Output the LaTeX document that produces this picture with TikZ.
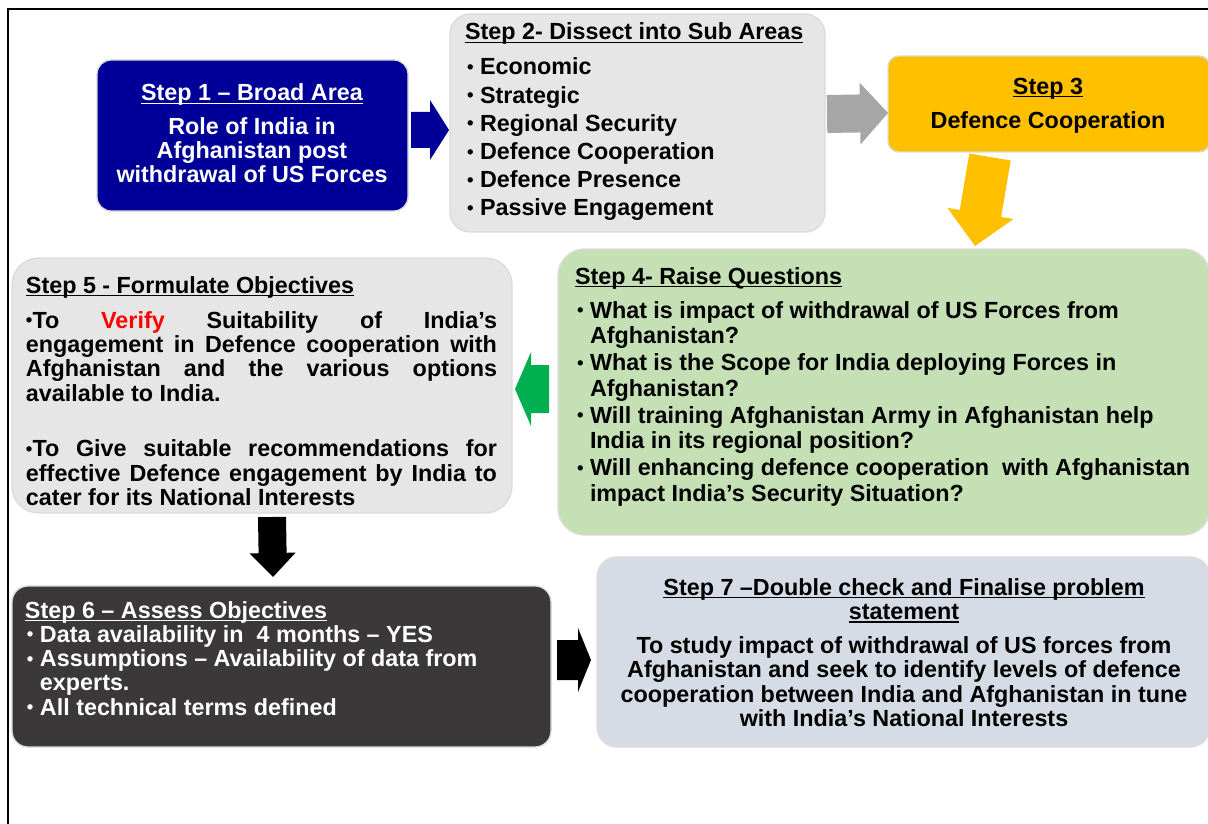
\documentclass[tikz,border=0pt]{standalone}
\usepackage{fontspec}
\setmainfont{Liberation Sans}
\usetikzlibrary{calc,fit}

\definecolor{navy}{HTML}{000099}
\definecolor{paleGrey}{HTML}{E6E6E6}
\definecolor{arrowGrey}{HTML}{A6A6A6}
\definecolor{amber}{HTML}{FFC000}
\definecolor{sage}{HTML}{C5E0B4}
\definecolor{leaf}{HTML}{00B050}
\definecolor{charcoal}{HTML}{3A3838}
\definecolor{steel}{HTML}{D6DCE5}
\definecolor{verifyRed}{HTML}{FF0000}

% underline that sits just under the baseline and crosses descenders
\newcommand\ulin[1]{\leavevmode\setbox0\hbox{#1}\rlap{\rule[-2.6pt]{\wd0}{1.1pt}}\box0}
% a block of step text: width, baselineskip, content
\newcommand\steptext[3]{\begin{minipage}[t]{#1}\fontsize{17.5pt}{#2}\selectfont\bfseries #3\end{minipage}}
% small list bullet and hanging indent
\newcommand\listdot{{\fontsize{14pt}{14pt}\selectfont\raisebox{1pt}{\textbullet}}}
\newcommand\bul{\hspace*{1.5pt}\makebox[9.75pt][l]{\listdot}}
\newcommand\hang{\hspace*{11.25pt}}
\newcommand\jline[1]{\makebox[\linewidth][s]{#1}}
% block arrow: fill, tail, tip, shaft half-width, head half-width, head length
\newcommand\blockarrow[6]{%
  \path ($(#3)!#6!(#2)$) coordinate (#2-base);
  \fill[#1] ($(#2)!#4!90:(#3)$) -- ($(#2-base)!#4!90:(#3)$) -- ($(#2-base)!#5!90:(#3)$)
     -- (#3) -- ($(#2-base)!#5!-90:(#3)$) -- ($(#2-base)!#4!-90:(#3)$) -- ($(#2)!#4!-90:(#3)$) -- cycle;
}

\tikzset{
  stepbox/.style={draw=black!14, line width=1pt, inner sep=0pt},
  txt/.style={inner sep=0pt, outer sep=0pt},
}

\begin{document}
\begin{tikzpicture}[x=0.75pt,y=-0.75pt]
\useasboundingbox (0,0) rectangle (1208,824);

% outer frame
\draw[line width=1.6pt] (8,824) -- (8,9) -- (1208,9);

% step boxes
\node[stepbox, fill=navy, rounded corners=10.5pt, fit={(97,60) (408,211)}] (s1) {};
\node[stepbox, fill=paleGrey, rounded corners=15pt, fit={(450,14) (825,232)}] (s2) {};
\node[stepbox, fill=amber, rounded corners=8pt, fit={(888,56) (1210,152)}] (s3) {};
\node[stepbox, fill=sage, rounded corners=20pt, fit={(558,249) (1210,535)}] (s4) {};
\node[stepbox, fill=paleGrey, rounded corners=20pt, fit={(12,258) (512,513)}] (s5) {};
\node[stepbox, fill=charcoal, rounded corners=12pt, fit={(12,586) (551,747)}] (s6) {};
\node[stepbox, fill=steel, rounded corners=15pt, fit={(597,557) (1210,747)}] (s7) {};

% arrow end points
\coordinate (a1) at (411,130); \coordinate (a1tip) at (449,130);
\coordinate (a2) at (827,114); \coordinate (a2tip) at (888,113);
\coordinate (a3) at (990,157); \coordinate (a3tip) at (975,246);
\coordinate (a4) at (549,389); \coordinate (a4tip) at (515,389);
\coordinate (a5) at (272,517); \coordinate (a5tip) at (273,577);
\coordinate (a6) at (557,660); \coordinate (a6tip) at (591,660);

\blockarrow{navy}{a1}{a1tip}{13.5pt}{22.5pt}{14.25pt}
\blockarrow{arrowGrey}{a2}{a2tip}{14.25pt}{23.25pt}{21pt}
\blockarrow{amber}{a3}{a3tip}{15.75pt}{25.1pt}{24.75pt}
\blockarrow{leaf}{a4}{a4tip}{18pt}{27.75pt}{12pt}
\blockarrow{black}{a5}{a5tip}{10.5pt}{17.25pt}{18pt}
\blockarrow{black}{a6}{a6tip}{15pt}{24pt}{9.75pt}

% step 1
\node[txt, anchor=base, text=white] (t1) at (252,101) {\steptext{225pt}{18pt}{\centering
  \ulin{Step 1 – Broad Area}\\[7.5pt]
  Role of India in\\
  Afghanistan post\\
  withdrawal of US Forces}};

% step 2
\node[txt, anchor=base west] (t2) at (465,40) {\steptext{270pt}{21.15pt}{\raggedright
  \ulin{Step 2- Dissect into Sub Areas}\\[5pt]
  \bul Economic\\
  \bul Strategic\\
  \bul Regional Security\\
  \bul Defence Cooperation\\
  \bul Defence Presence\\
  \bul Passive Engagement}};

% step 3
\node[txt, anchor=base] (t3) at (1048,94) {\steptext{230pt}{26pt}{\centering
  \ulin{Step 3}\\
  Defence Cooperation}};

% step 4
\node[txt, anchor=base west] (t4) at (575,284) {\steptext{465pt}{19pt}{\raggedright
  \ulin{Step 4- Raise Questions}\\[6.5pt]
  \bul What is impact of withdrawal of US Forces from\\
  \hang Afghanistan?\\[1.5pt]
  \bul What is the Scope for India deploying Forces in\\
  \hang Afghanistan?\\[1.5pt]
  \bul Will training Afghanistan Army in Afghanistan help\\
  \hang India in its regional position?\\[1.5pt]
  \bul Will enhancing defence cooperation\ \ with Afghanistan\\
  \hang impact India’s Security Situation?}};

% step 5
\node[txt, anchor=base west] (t5) at (26,293) {\steptext{353.25pt}{18.3pt}{\raggedright
  \ulin{Step 5 - Formulate Objectives}\\[8pt]
  \jline{\listdot To \textcolor{verifyRed}{Verify} Suitability of India’s}\\
  \jline{engagement in Defence cooperation with}\\
  \jline{Afghanistan and the various options}\\
  available to India.\\[23.5pt]
  \jline{\listdot To Give suitable recommendations for}\\
  \jline{effective Defence engagement by India to}\\
  cater for its National Interests}};

% step 6
\node[txt, anchor=base west, text=white] (t6) at (25,618) {\steptext{400pt}{18.2pt}{\raggedright
  \ulin{Step 6 – Assess Objectives}\\
  \bul Data availability in\ \ 4 months – YES\\
  \bul Assumptions – Availability of data from\\
  \hang experts.\\
  \bul All technical terms defined}};

% step 7
\node[txt, anchor=base] (t7) at (904,595) {\steptext{450pt}{18.2pt}{\centering
  \ulin{Step 7 –Double check and Finalise problem}\\
  \ulin{statement}\\[7.5pt]
  To study impact of withdrawal of US forces from\\
  Afghanistan and seek to identify levels of defence\\
  cooperation between India and Afghanistan in tune\\
  with India’s National Interests}};

\end{tikzpicture}
\end{document}
